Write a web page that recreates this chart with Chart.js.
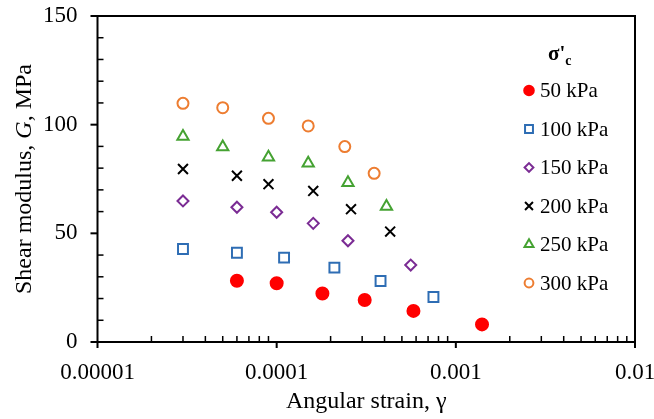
<!DOCTYPE html>
<html lang="en">
<head>
  <meta charset="UTF-8" />
  <title>Shear modulus vs angular strain</title>
  <script src="https://cdn.jsdelivr.net/npm/chart.js"></script>
  <style>
    html, body { margin: 0; padding: 0; background: #fff; overflow: hidden; }
    canvas { display: block; }
  </style>
</head>
<body>
  <canvas id="gChart" width="654" height="419"></canvas>

  <script>
    // values
    const seriesNames = ['50 kPa', '100 kPa', '150 kPa', '200 kPa', '250 kPa', '300 kPa'];

    const strain50  = [6e-5, 1e-4, 1.8e-4, 3.1e-4, 5.8e-4, 1.4e-3];
    const g50       = [28.2, 27.0, 22.3, 19.3, 14.3, 8.1];

    const strain100 = [3e-5, 6e-5, 1.1e-4, 2.1e-4, 3.8e-4, 7.5e-4];
    const g100      = [42.8, 41.1, 38.8, 34.2, 28.1, 20.7];

    const strain150 = [3e-5, 6e-5, 1e-4, 1.6e-4, 2.5e-4, 5.6e-4];
    const g150      = [64.9, 62.0, 59.7, 54.6, 46.6, 35.4];

    const strain200 = [3e-5, 6e-5, 9e-5, 1.6e-4, 2.6e-4, 4.3e-4];
    const g200      = [79.6, 76.5, 72.6, 69.5, 61.1, 50.8];

    const strain250 = [3e-5, 5e-5, 9e-5, 1.5e-4, 2.5e-4, 4.1e-4];
    const g250      = [94.5, 89.7, 85.0, 82.2, 73.3, 62.3];

    const strain300 = [3e-5, 5e-5, 9e-5, 1.5e-4, 2.4e-4, 3.5e-4];
    const g300      = [109.8, 107.8, 102.9, 99.4, 89.9, 77.6];

    const xMajorTicks = [1e-5, 1e-4, 1e-3, 1e-2];
    const yMajorTicks = [0, 50, 100, 150];

    const FONT = "'Liberation Serif', 'Times New Roman', serif";

    function pts(xs, ys) {
      return xs.map((x, i) => ({ x: x, y: ys[i] }));
    }

    const styles = [
      { pointStyle: 'circle',   color: '#ff0000', fill: true,  r: 6 },
      { pointStyle: 'rect',     color: '#2e6db4', fill: false, r: 7 },
      { pointStyle: 'rectRot',  color: '#7b2c94', fill: false, r: 5.5 },
      { pointStyle: 'crossRot', color: '#000000', fill: false, r: 7 },
      { pointStyle: 'triangle', color: '#45a232', fill: false, r: 6.5 },
      { pointStyle: 'circle',   color: '#ed7d31', fill: false, r: 5.5 }
    ];

    const allData = [
      pts(strain50, g50), pts(strain100, g100), pts(strain150, g150),
      pts(strain200, g200), pts(strain250, g250), pts(strain300, g300)
    ];

    const datasets = allData.map((d, i) => ({
      label: seriesNames[i],
      data: d,
      showLine: false,
      pointStyle: styles[i].pointStyle,
      pointRadius: styles[i].r,
      pointHoverRadius: styles[i].r,
      pointBorderWidth: 2,
      pointBorderColor: styles[i].color,
      pointBackgroundColor: styles[i].fill ? styles[i].color : 'rgba(0,0,0,0)'
    }));

    // axis titles and legend
    const labelPlugin = {
      id: 'labels',
      afterDraw(chart) {
        const ctx = chart.ctx;
        const a = chart.chartArea;
        ctx.save();
        ctx.fillStyle = '#000';
        ctx.textBaseline = 'middle';

        // x title
        ctx.font = '24px ' + FONT;
        ctx.textAlign = 'center';
        ctx.fillText('Angular strain, \u03b3', (a.left + a.right) / 2, 402);

        // y title with italic G
        const parts = [
          { t: 'Shear modulus, ', f: '24px ' + FONT },
          { t: 'G', f: 'italic 24px ' + FONT },
          { t: ', MPa', f: '24px ' + FONT }
        ];
        let total = 0;
        parts.forEach(p => { ctx.font = p.f; p.w = ctx.measureText(p.t).width; total += p.w; });
        ctx.translate(25, (a.top + a.bottom) / 2);
        ctx.rotate(-Math.PI / 2);
        ctx.textAlign = 'left';
        let px = -total / 2;
        parts.forEach(p => { ctx.font = p.f; ctx.fillText(p.t, px, 0); px += p.w; });
        ctx.setTransform(1, 0, 0, 1, 0, 0);

        // legend title sigma'c
        ctx.textBaseline = 'alphabetic';
        ctx.font = 'bold 21px ' + FONT;
        ctx.fillText("\u03c3'", 548, 60);
        const sw = ctx.measureText("\u03c3'").width;
        ctx.font = 'bold 14px ' + FONT;
        ctx.fillText('c', 548 + sw, 65);

        // legend entries
        ctx.textBaseline = 'middle';
        chart.data.datasets.forEach((ds, i) => {
          const y = 90.5 + i * 38.5;
          ctx.fillStyle = ds.pointBackgroundColor;
          ctx.strokeStyle = ds.pointBorderColor;
          ctx.lineWidth = 2;
          Chart.helpers.drawPoint(ctx, {
            pointStyle: ds.pointStyle,
            radius: ds.pointRadius * 0.8,
            borderWidth: 2,
            rotation: 0
          }, 529, y);
          ctx.fillStyle = '#000';
          ctx.font = '21px ' + FONT;
          ctx.fillText(ds.label, 540, y + 1);
        });
        ctx.restore();
      }
    };

    // frame and tick marks, drawn last
    const framePlugin = {
      id: 'frame',
      afterDraw(chart) {
        const ctx = chart.ctx;
        const a = chart.chartArea;
        const xs = chart.scales.x;
        const ys = chart.scales.y;
        ctx.save();
        ctx.fillStyle = '#000';
        ctx.fillRect(a.left - 1, a.top - 1, a.right - a.left + 2, 2);
        ctx.fillRect(a.left - 1, a.bottom - 1, a.right - a.left + 2, 2);
        ctx.fillRect(a.left - 1, a.top - 1, 2, a.bottom - a.top + 2);
        ctx.fillRect(a.right - 1, a.top - 1, 2, a.bottom - a.top + 2);

        // y major ticks outward, minor inward
        yMajorTicks.forEach(v => {
          const y = ys.getPixelForValue(v);
          ctx.fillRect(a.left - 7, y - 1, 7, 2);
        });
        for (let v = 10; v < 150; v += 10) {
          if (v % 50 === 0) continue;
          const y = ys.getPixelForValue(v);
          ctx.fillRect(a.left, y - 0.75, 6, 1.5);
        }
        // x major ticks outward, minor inward
        xMajorTicks.forEach(v => {
          const x = xs.getPixelForValue(v);
          ctx.fillRect(x - 1, a.bottom, 2, 6);
        });
        for (let e = -5; e < -2; e++) {
          for (let m = 2; m <= 9; m++) {
            const x = xs.getPixelForValue(m * Math.pow(10, e));
            ctx.fillRect(x - 0.75, a.bottom - 6, 1.5, 6);
          }
        }
        ctx.restore();
      }
    };

    new Chart(document.getElementById('gChart'), {
      type: 'scatter',
      data: { datasets: datasets },
      options: {
        responsive: false,
        animation: false,
        layout: { padding: { top: 16, right: 19, left: 0, bottom: 0 } },
        plugins: {
          legend: { display: false },
          tooltip: { enabled: false }
        },
        scales: {
          x: {
            type: 'logarithmic',
            min: 1e-5,
            max: 1e-2,
            grid: { display: false, drawTicks: false },
            border: { display: false },
            afterBuildTicks: s => { s.ticks = xMajorTicks.map(v => ({ value: v })); },
            afterFit: s => { s.height = 77; s.paddingLeft = 0; s.paddingRight = 0; },
            ticks: {
              autoSkip: false,
              maxRotation: 0,
              padding: 17,
              color: '#000',
              font: { family: FONT, size: 23 },
              callback: v => Number(v).toFixed(Math.max(0, -Math.round(Math.log10(v))))
            }
          },
          y: {
            min: 0,
            max: 150,
            grid: { display: false, drawTicks: false },
            border: { display: false },
            afterBuildTicks: s => { s.ticks = yMajorTicks.map(v => ({ value: v })); },
            afterFit: s => { s.width = 97.5; s.paddingTop = 0; s.paddingBottom = 0; },
            ticks: {
              padding: 20,
              color: '#000',
              font: { family: FONT, size: 23 }
            }
          }
        }
      },
      plugins: [labelPlugin, framePlugin]
    });
  </script>
</body>
</html>
